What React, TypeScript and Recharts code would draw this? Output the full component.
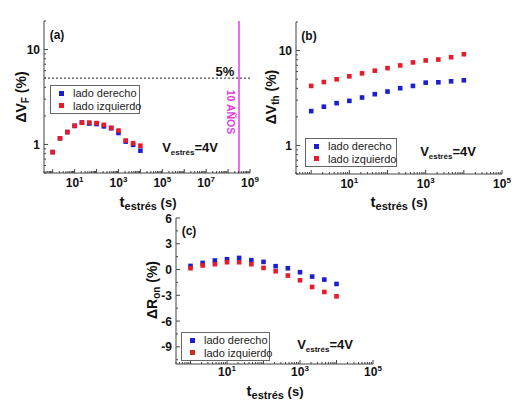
import type { ReactNode } from "react";
import {
  ScatterChart,
  Scatter,
  XAxis,
  YAxis,
  ReferenceLine,
  Legend,
} from "recharts";

// stress times (s), same for every panel
const TIMES = [1, 2.15, 4.64, 10, 21.5, 46.4, 100, 215, 464, 1000, 2150, 4640, 10000];

// (a) ΔVF (%)
const VF_DERECHO = [0.83, 1.16, 1.35, 1.57, 1.7, 1.66, 1.64, 1.55, 1.48, 1.32, 1.07, 0.99, 0.86];
const VF_IZQUIERDO = [0.83, 1.16, 1.35, 1.57, 1.7, 1.7, 1.68, 1.61, 1.5, 1.4, 1.1, 1.03, 0.97];

// (b) ΔVth (%)
const VTH_DERECHO = [2.3, 2.56, 2.79, 2.95, 3.2, 3.47, 3.7, 4.01, 4.24, 4.59, 4.63, 4.74, 4.86];
const VTH_IZQUIERDO = [4.24, 4.66, 4.98, 5.35, 5.75, 6.14, 6.53, 6.97, 7.5, 7.86, 8.05, 8.51, 9.15];

// (c) ΔRon (%)
const RON_DERECHO = [0.42, 0.77, 1.05, 1.2, 1.35, 1.09, 0.89, 0.39, 0.15, -0.31, -0.82, -1.17, -1.68];
const RON_IZQUIERDO = [0.15, 0.47, 0.62, 0.85, 0.85, 0.62, 0.19, -0.2, -0.7, -1.25, -2.03, -2.61, -3.12];

// tick labels
const X_LABELS_A = [10, 1e3, 1e5, 1e7, 1e9];
const X_LABELS_BC = [10, 1e3, 1e5];
const Y_LABELS_LOG = [1, 10];
const Y_LABELS_C = [-9, -6, -3, 0, 3, 6];
const Y_MINOR_C = [-10.5, -7.5, -4.5, -1.5, 1.5, 4.5];

const TEN_YEARS = 3.15e8;
const FIVE_PCT = 5;

const BLUE = "#1d1ed2";
const RED = "#e81b2b";
const FONT = '"Liberation Sans", Arial, sans-serif';

const toPoints = (vals: number[]) => TIMES.map((t, i) => ({ t, v: vals[i] }));

// minor + decade ticks for a log axis
function logTicks(lo: number, hi: number) {
  const out: number[] = [];
  for (let e = Math.floor(Math.log10(lo)); e <= Math.ceil(Math.log10(hi)); e++) {
    for (let m = 1; m < 10; m++) {
      const v = m * Math.pow(10, e);
      if (v >= lo * 0.999 && v <= hi * 1.001) out.push(v);
    }
  }
  return out;
}

const near = (list: number[], v: number) =>
  list.some((l) => Math.abs(l - v) <= Math.abs(v) * 1e-6 + 1e-9);
const isDecade = (v: number) =>
  Math.abs(Math.log10(v) - Math.round(Math.log10(v))) < 1e-6;

type Side = "bottom" | "left" | "top" | "right";

function makeTick(
  side: Side,
  opts: { log: boolean; labels?: number[]; majors?: number[]; gap?: number }
) {
  return (props: any) => {
    const { x, y, payload } = props;
    const v = payload.value as number;
    const major = opts.log ? isDecade(v) : near(opts.majors ?? [], v);
    const len = major ? 4 : 2;
    let line;
    if (side === "bottom") line = <line x1={x} y1={y} x2={x} y2={y - len} />;
    else if (side === "top") line = <line x1={x} y1={y} x2={x} y2={y + len} />;
    else if (side === "left") line = <line x1={x} y1={y} x2={x + len} y2={y} />;
    else line = <line x1={x} y1={y} x2={x - len} y2={y} />;

    let label = null;
    if (opts.labels && near(opts.labels, v)) {
      if (side === "bottom") {
        label = (
          <text x={x} y={y + (opts.gap ?? 14)} textAnchor="middle" fontSize={12} fontWeight="bold" fontFamily={FONT} fill="#111">
            <tspan>10</tspan>
            <tspan dy={-5} fontSize={8}>{Math.round(Math.log10(v))}</tspan>
          </text>
        );
      } else if (side === "left") {
        label = (
          <text x={x - 4} y={y + 4.5} textAnchor="end" fontSize={12} fontWeight="bold" fontFamily={FONT} fill="#111">
            {v}
          </text>
        );
      }
    }
    return (
      <g>
        <g stroke="#444" strokeWidth={1}>{line}</g>
        {label}
      </g>
    );
  };
}

const squareShape = (props: any) => (
  <rect x={props.cx - 2.3} y={props.cy - 2.3} width={4.6} height={4.6} fill={props.fill} />
);

const legendContent = (redMarker: string) => (props: any) => (
  <div
    style={{
      border: "1px solid #666",
      background: "#fff",
      padding: "1px 0",
      fontFamily: FONT,
      fontSize: 11,
      color: "#222",
      whiteSpace: "nowrap",
    }}
  >
    {(props.payload ?? []).map((p: any) => (
      <div key={p.value} style={{ display: "flex", alignItems: "center", height: 12.5, whiteSpace: "nowrap" }}>
        <span
          style={{
            flex: "none",
            width: 5,
            height: 5,
            marginLeft: 8,
            marginRight: 9,
            background: p.value === "lado izquierdo" ? redMarker : p.color,
          }}
        />
        <span style={{ whiteSpace: "nowrap" }}>{p.value}</span>
      </div>
    ))}
  </div>
);

type Box = { left: number; top: number; width: number; height: number };
type Plot = { left: number; top: number; right: number; bottom: number };

function Panel(props: {
  box: Box;
  plot: Plot;
  xDomain: [number, number];
  xLabels: number[];
  xGap?: number;
  yLog: boolean;
  yDomain: [number, number];
  yTicks: number[];
  yLabels: number[];
  yMajors?: number[];
  derecho: number[];
  izquierdo: number[];
  legend: { left: number; top: number; width: number; redMarker?: string };
  children?: ReactNode;
}) {
  const { box, plot } = props;
  const yAxisW = plot.left - box.left;
  const xAxisH = box.top + box.height - plot.bottom;
  const xTicks = logTicks(props.xDomain[0], props.xDomain[1]);
  const yScale = props.yLog ? "log" : "linear";
  const yOpts = { log: props.yLog, majors: props.yMajors };

  return (
    <div style={{ position: "absolute", left: box.left, top: box.top }}>
      <ScatterChart
        width={box.width}
        height={box.height}
        margin={{
          top: plot.top - box.top,
          right: box.left + box.width - plot.right,
          left: 0,
          bottom: 0,
        }}
      >
        <XAxis
          xAxisId="main"
          type="number"
          dataKey="t"
          scale="log"
          domain={props.xDomain}
          allowDataOverflow
          ticks={xTicks}
          interval={0}
          height={xAxisH}
          tickSize={0}
          tickMargin={0}
          tickLine={false}
          axisLine={{ stroke: "#444" }}
          tick={makeTick("bottom", { log: true, labels: props.xLabels, gap: props.xGap })}
        />
        <XAxis
          xAxisId="top"
          orientation="top"
          type="number"
          dataKey="t"
          scale="log"
          domain={props.xDomain}
          allowDataOverflow
          ticks={xTicks}
          interval={0}
          height={0}
          tickSize={0}
          tickMargin={0}
          tickLine={false}
          axisLine={{ stroke: "#444" }}
          tick={makeTick("top", { log: true })}
        />
        <YAxis
          yAxisId="main"
          type="number"
          dataKey="v"
          scale={yScale}
          domain={props.yDomain}
          allowDataOverflow
          ticks={props.yTicks}
          interval={0}
          width={yAxisW}
          tickSize={0}
          tickMargin={0}
          tickLine={false}
          axisLine={{ stroke: "#444" }}
          tick={makeTick("left", { ...yOpts, labels: props.yLabels })}
        />
        <YAxis
          yAxisId="right"
          orientation="right"
          type="number"
          dataKey="v"
          scale={yScale}
          domain={props.yDomain}
          allowDataOverflow
          ticks={props.yTicks}
          interval={0}
          width={0}
          tickSize={0}
          tickMargin={0}
          tickLine={false}
          axisLine={{ stroke: "#444" }}
          tick={makeTick("right", yOpts)}
        />
        {props.children}
        <Scatter
          name="lado derecho"
          xAxisId="main"
          yAxisId="main"
          data={toPoints(props.derecho)}
          fill={BLUE}
          shape={squareShape}
          isAnimationActive={false}
        />
        <Scatter
          name="lado izquierdo"
          xAxisId="main"
          yAxisId="main"
          data={toPoints(props.izquierdo)}
          fill={RED}
          shape={squareShape}
          isAnimationActive={false}
        />
        <Legend
          layout="vertical"
          align="center"
          verticalAlign="middle"
          width={props.legend.width}
          wrapperStyle={{
            left: props.legend.left,
            top: props.legend.top,
            width: props.legend.width,
          }}
          content={legendContent(props.legend.redMarker ?? RED)}
        />
      </ScatterChart>
    </div>
  );
}

const textAt = (
  x: number,
  y: number,
  content: ReactNode,
  style: React.CSSProperties = {},
  rotate = 0
) => (
  <div
    style={{
      position: "absolute",
      left: x,
      top: y,
      transform: `translate(-50%, -50%) rotate(${rotate}deg)`,
      whiteSpace: "nowrap",
      fontFamily: FONT,
      fontWeight: "bold",
      color: "#111",
      lineHeight: 1,
      ...style,
    }}
  >
    {content}
  </div>
);

const sub = (s: string, size: number) => (
  <span style={{ fontSize: size, verticalAlign: "-0.3em" }}>{s}</span>
);

const vStress = (
  <span style={{ fontSize: 13 }}>
    V{sub("estrés", 8)}=4V
  </span>
);

const tTitle = (
  <span style={{ fontSize: 15 }}>
    t{sub("estrés", 11)}
    <span style={{ fontSize: 13 }}> (s)</span>
  </span>
);

const yTitle = (base: string, s: string) => (
  <span style={{ fontSize: 14 }}>
    Δ{base}
    {sub(s, 10)} (%)
  </span>
);

export default function App() {
  return (
    <div
      style={{
        position: "absolute",
        left: 0,
        top: 0,
        width: 523,
        height: 408,
        background: "#fff",
        overflow: "hidden",
      }}
    >
      <Panel
        box={{ left: 0, top: 0, width: 262, height: 215 }}
        plot={{ left: 44, top: 21, right: 250, bottom: 173 }}
        xDomain={[0.4, 1e9]}
        xLabels={X_LABELS_A}
        yLog
        yDomain={[0.5, 20]}
        yTicks={logTicks(0.5, 20)}
        yLabels={Y_LABELS_LOG}
        derecho={VF_DERECHO}
        izquierdo={VF_IZQUIERDO}
        legend={{ left: 50, top: 85, width: 90 }}
      >
        <ReferenceLine
          xAxisId="main"
          yAxisId="main"
          y={FIVE_PCT}
          stroke="#222"
          strokeDasharray="2 2"
          strokeWidth={1}
        />
        <ReferenceLine
          xAxisId="main"
          yAxisId="main"
          x={TEN_YEARS}
          stroke="#e63ce6"
          strokeWidth={1.5}
        />
      </Panel>

      <Panel
        box={{ left: 262, top: 0, width: 261, height: 215 }}
        plot={{ left: 296, top: 22, right: 502, bottom: 174 }}
        xDomain={[0.4, 1e5]}
        xLabels={X_LABELS_BC}
        yLog
        yDomain={[0.5, 20]}
        yTicks={logTicks(0.5, 20)}
        yLabels={Y_LABELS_LOG}
        derecho={VTH_DERECHO}
        izquierdo={VTH_IZQUIERDO}
        legend={{ left: 43, top: 138, width: 92 }}
      />

      <Panel
        box={{ left: 130, top: 210, width: 260, height: 195 }}
        plot={{ left: 176, top: 218, right: 373, bottom: 364 }}
        xDomain={[0.4, 1e5]}
        xLabels={X_LABELS_BC}
        xGap={12}
        yLog={false}
        yDomain={[-11, 6]}
        yTicks={[...Y_LABELS_C, ...Y_MINOR_C].sort((a, b) => a - b)}
        yLabels={Y_LABELS_C}
        yMajors={Y_LABELS_C}
        derecho={RON_DERECHO}
        izquierdo={RON_IZQUIERDO}
        legend={{ left: 51, top: 122, width: 89, redMarker: "#c8301e" }}
      />

      {/* panel (a) annotations */}
      {textAt(57, 35, "(a)", { fontSize: 12 })}
      {textAt(225, 71, "5%", { fontSize: 13 })}
      {textAt(231, 112, "10 AÑOS", { fontSize: 10.5, color: "#e03ce0" }, 90)}
      {textAt(190, 148, vStress)}
      {textAt(22, 97, yTitle("V", "F"), {}, -90)}
      {textAt(148, 203, tTitle)}

      {/* panel (b) annotations */}
      {textAt(309, 36, "(b)", { fontSize: 12 })}
      {textAt(448, 152, vStress)}
      {textAt(272, 97, yTitle("V", "th"), {}, -90)}
      {textAt(399, 203, tTitle)}

      {/* panel (c) annotations */}
      {textAt(189, 231, "(c)", { fontSize: 12 })}
      {textAt(325, 345, vStress)}
      {textAt(153, 290, yTitle("R", "on"), {}, -90)}
      {textAt(275, 392, tTitle)}
    </div>
  );
}
